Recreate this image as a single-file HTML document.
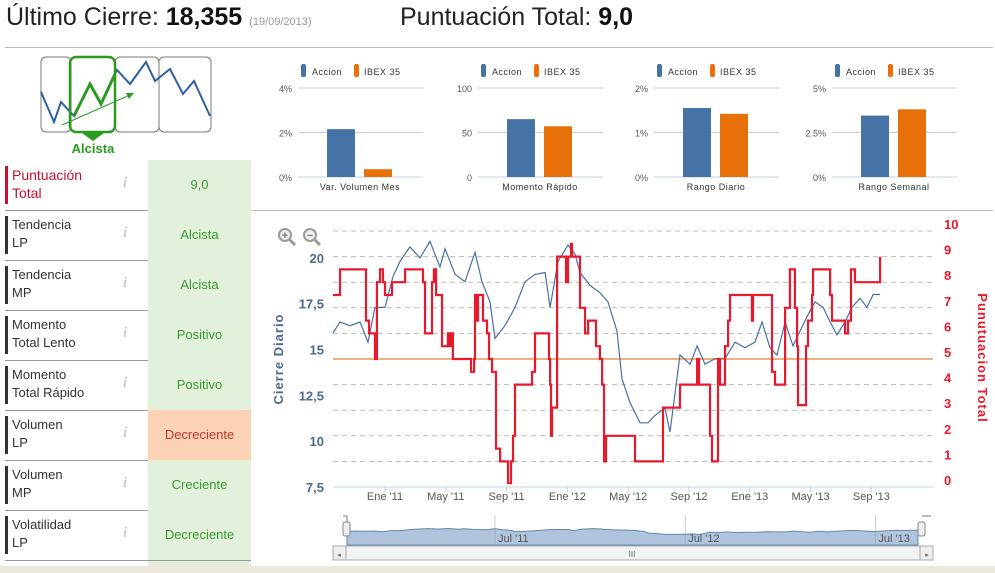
<!DOCTYPE html>
<html><head><meta charset="utf-8">
<style>
body{margin:0;width:995px;height:573px;overflow:hidden;background:#fff;font-family:"Liberation Sans",sans-serif;position:relative}
.abs{position:absolute}
.row{position:absolute;left:5px;width:246px;height:50px;border-bottom:1px solid #999}
.lbl{position:absolute;left:0;top:6px;height:38px;border-left:3px solid #333;padding-left:4px;font-size:13px;line-height:18px;color:#333;width:110px}
.info{position:absolute;left:118px;top:15px;font-family:"Liberation Serif",serif;font-style:italic;font-weight:bold;color:#ccc;font-size:15px}
.val{position:absolute;left:143px;top:0;width:103px;height:50px;background:#e2f0dc;color:#3a9a32;font-size:13px;text-align:center;line-height:50px}
</style></head><body>
<div class="abs" style="left:6px;top:3px;font-size:25px;color:#222">Último Cierre: <b style="color:#111">18,355</b> <span style="font-size:11px;color:#999">(19/09/2013)</span></div>
<div class="abs" style="left:400px;top:3px;font-size:25px;color:#222">Puntuación Total: <b style="color:#111">9,0</b></div>
<div class="abs" style="left:5px;top:47px;width:988px;height:1px;background:#bbb"></div>
<div class="abs" style="left:251px;top:210px;width:742px;height:1px;background:#bbb"></div>
<div class="abs" style="left:0;top:566px;width:995px;height:7px;background:#ece8dc"></div>

<svg class="abs" style="left:38px;top:54px" width="180" height="105">
<rect x="3" y="3" width="30" height="75" rx="5" fill="#fff" stroke="#777"/>
<rect x="77" y="3" width="44" height="75" rx="5" fill="#fff" stroke="#777"/>
<rect x="121" y="3" width="52" height="75" rx="5" fill="#fff" stroke="#777"/>
<polyline points="3,38 16,68 23,48 36,62 52,30 63,50 79,16 92,30 108,8 117,27 132,15 145,40 156,27 172,62" fill="none" stroke="#2f5fa0" stroke-width="2"/>
<rect x="32" y="3" width="45" height="75" rx="6" fill="none" stroke="#2a9a20" stroke-width="2.5"/>
<polyline points="36,62 52,30 63,50 77,20" fill="none" stroke="#2a9a20" stroke-width="3"/>
<line x1="24" y1="71" x2="94" y2="40" stroke="#2a9a20" stroke-width="1"/><polygon points="96,39 88,39 91,45" fill="#2a9a20"/>
<polygon points="44,79 66,79 55,87" fill="#2a9a20"/>
<text x="55" y="99" text-anchor="middle" font-size="13" font-weight="bold" fill="#2a9a20" font-family="Liberation Sans">Alcista</text>
</svg>

<div class="row" style="top:160px"><div class="lbl" style="border-color:#c8102e;color:#c8102e;font-size:14px">Puntuación<br>Total</div><div class="info">i</div><div class="val">9,0</div></div>
<div class="row" style="top:210px"><div class="lbl">Tendencia<br>LP</div><div class="info">i</div><div class="val">Alcista</div></div>
<div class="row" style="top:260px"><div class="lbl">Tendencia<br>MP</div><div class="info">i</div><div class="val">Alcista</div></div>
<div class="row" style="top:310px"><div class="lbl">Momento<br>Total Lento</div><div class="info">i</div><div class="val">Positivo</div></div>
<div class="row" style="top:360px"><div class="lbl">Momento<br>Total Rápido</div><div class="info">i</div><div class="val">Positivo</div></div>
<div class="row" style="top:410px"><div class="lbl">Volumen<br>LP</div><div class="info">i</div><div class="val" style="background:#fbd3b4;color:#c0392b">Decreciente</div></div>
<div class="row" style="top:460px"><div class="lbl">Volumen<br>MP</div><div class="info">i</div><div class="val">Creciente</div></div>
<div class="row" style="top:510px"><div class="lbl">Volatilidad<br>LP</div><div class="info">i</div><div class="val">Decreciente</div></div>
<div class="abs" style="left:148px;top:561px;width:103px;height:5px;background:#e2f0dc"></div>

<svg class="abs" id="bars" style="left:0;top:0" width="995" height="210"></svg>
<svg class="abs" id="main" style="left:0;top:0" width="995" height="566"></svg>

<script>
const barTitles=["Var. Volumen Mes","Momento Rápido","Rango Diario","Rango Semanal"];
const barMax=[4,100,2,5];
const barTicks=[["0%","2%","4%"],["0","50","100"],["0%","1%","2%"],["0%","2.5%","5%"]];
const accionVals=[2.15,65,1.55,3.45];
const ibexVals=[0.35,57,1.42,3.8];

const priceT=[-3.42,-2.96,-2.30,-1.64,-1.12,-0.66,0,0.53,0.99,1.64,2.30,2.96,3.62,3.95,4.61,5.26,5.92,6.38,6.91,7.24,7.89,8.55,9.21,9.87,10.53,10.86,11.38,12.04,12.50,12.83,13.49,14.14,14.67,15.26,15.59,16.12,16.78,17.30,17.76,18.42,18.75,19.41,20.07,20.53,21.05,21.71,22.37,23.03,23.68,24.34,24.80,25.33,25.79,26.32,26.84,27.30,27.83,28.29,28.82,29.28,29.74,30.26,30.72,31.25,31.71,32.11,32.57];
const priceV=[15.9,16.5,16.3,16.5,15.4,17.3,17.3,19.0,19.8,20.6,20.0,20.9,19.5,20.5,19.1,18.7,20.3,18.7,17.6,15.6,16.3,17.3,18.7,19.1,19.2,17.3,19.8,20.7,20.2,19.2,18.5,18.1,17.6,16.0,13.4,12.1,11.0,11.0,11.4,11.8,10.5,14.7,14.2,15.2,14.2,14.5,14.5,15.4,15.1,15.4,16.5,15.1,14.7,16.5,15.2,16.0,16.9,17.6,17.3,16.5,15.8,16.5,17.3,17.8,17.3,18.0,18.0];
const scoreT=[-3.42,-2.96,-1.25,-1.05,-0.66,-0.53,-0.33,-0.13,0,0.46,1.32,2.50,2.63,3.09,3.22,3.36,3.75,4.14,4.28,4.41,4.47,5.66,5.86,5.92,6.05,6.12,6.45,6.71,6.84,7.04,7.30,7.57,8.09,8.29,8.42,8.55,9.67,9.87,10.79,10.86,10.92,10.99,11.32,11.91,12.04,12.24,12.30,12.83,13.16,13.36,13.88,14.14,14.28,14.41,14.54,16.45,18.29,19.41,20.53,20.66,21.38,21.51,21.91,22.04,22.37,22.57,22.70,24.14,24.21,25.46,25.66,26.32,26.64,26.97,27.11,27.17,27.70,27.83,28.09,28.16,29.28,29.41,30.26,30.46,30.66,30.92,32.57];
const scoreV=[7.5,8.5,6.5,6.0,5.0,8.0,8.5,8.0,7.5,8.0,8.5,8.0,6.0,8.0,8.5,7.5,5.5,6.0,5.5,6.0,5.0,4.5,5.0,7.5,6.5,7.5,6.5,6.0,5.0,4.5,1.5,1.0,0.15,1.0,2.0,4.0,4.5,6.0,5.0,4.0,2.0,3.1,9.0,8.0,9.0,9.5,9.0,7.0,6.0,6.5,5.5,5.0,4.0,1.0,2.0,1.0,3.1,4.0,5.0,4.0,2.0,1.0,5.0,4.0,5.5,6.5,7.5,6.5,7.5,4.5,4.0,7.0,8.5,7.0,5.5,3.2,5.5,6.5,7.5,8.5,7.5,6.5,6.0,6.5,8.5,8.0,9.0];
const leftTicks=[7.5,10,12.5,15,17.5,20];
const leftTickLabels=["7,5","10","12,5","15","17,5","20"];
const rightTicks=[0,1,2,3,4,5,6,7,8,9,10];
const refScore=5;
const xTickT=[0,4,8,12,16,20,24,28,32];
const xTickLabels=["Ene '11","May '11","Sep '11","Ene '12","May '12","Sep '12","Ene '13","May '13","Sep '13"];
const navTickT=[6,18,30];
const navTickLabels=["Jul '11","Jul '12","Jul '13"];

const NS="http://www.w3.org/2000/svg";
function mk(p,tag,at,txt){const e=document.createElementNS(NS,tag);for(const k in at)e.setAttribute(k,at[k]);if(txt!==undefined)e.textContent=txt;p.appendChild(e);return e;}

const bs=document.getElementById('bars');
const bx0=[298,478,654,832];
for(let i=0;i<4;i++){
  const x0=bx0[i],w=125,yT=88,yB=177;
  const ys=v=>yB-(v/barMax[i])*(yB-yT);
  for(let k=0;k<3;k++){
    const y=yB-k*(yB-yT)/2;
    const g=mk(bs,'line',{x1:x0,x2:x0+w,y1:y,y2:y,stroke:k==0?'#c0d0e0':'#ccc','stroke-width':1});
    
    
    const t=mk(bs,'text',{x:x0-6,y:y+4,'text-anchor':'end','font-size':9,fill:'#555'},barTicks[i][k]);
    
    
  }
  const b1=mk(bs,'rect',{x:x0+29,y:ys(accionVals[i]),width:28,height:yB-ys(accionVals[i]),fill:'#4572a7'});
  
  
  const b2=mk(bs,'rect',{x:x0+66,y:ys(ibexVals[i]),width:28,height:yB-ys(ibexVals[i]),fill:'#e8700a'});
  
  
  const tt=mk(bs,'text',{x:x0+62,y:190,'text-anchor':'middle','font-size':9,fill:'#333','letter-spacing':'0.5'},barTitles[i]);
  
  
  const lg=mk(bs,'g',{});
  
  
  mk(lg,'rect',{x:x0+3,y:64,width:5,height:13,rx:2,fill:'#4572a7'});
  mk(lg,'text',{x:x0+14,y:75,'font-size':9,fill:'#333','letter-spacing':'0.5'},'Accion');
  mk(lg,'rect',{x:x0+56,y:64,width:5,height:13,rx:2,fill:'#e8700a'});
  mk(lg,'text',{x:x0+66,y:75,'font-size':9,fill:'#333','letter-spacing':'0.5'},'IBEX 35');
}

const sv=document.getElementById('main');
const L=333,R=933,TOP=231,BOT=487;
const xS=t=>385+t*15.2;
const yL=v=>BOT-(v-7.5)*18.33;
const yR=v=>BOT-v*25.6;
rightTicks.forEach(v=>{
  const g=mk(sv,'line',{x1:L,x2:R,y1:yR(v),y2:yR(v),stroke:v==0?'#c0d0e0':'#bbb','stroke-dasharray':v==0?'':'5,4','stroke-width':1});
  
  
  const t=mk(sv,'text',{x:944,y:yR(v)-2,'text-anchor':'start','font-size':13,'font-weight':'bold',fill:'#e8192c'},String(v));
  
  
});
leftTicks.forEach((v,i)=>{
  const t=mk(sv,'text',{x:324,y:yL(v)+5,'text-anchor':'end','font-size':13,'font-weight':'bold',fill:'#4a6890'},leftTickLabels[i]);
  
  
});
xTickT.forEach((t,i)=>{
  const tk=mk(sv,'line',{x1:xS(t),x2:xS(t),y1:BOT,y2:BOT+5,stroke:'#c0d0e0'});
  
  
  const tx=mk(sv,'text',{x:xS(t),y:500,'text-anchor':'middle','font-size':11,fill:'#555'},xTickLabels[i]);
  
  
});
const yt=mk(sv,'text',{x:283,y:359,'text-anchor':'middle','font-size':13,'font-weight':'bold',fill:'#4a6890','letter-spacing':'1',transform:'rotate(-90 283 359)'},'Cierre Diario');


const yt2=mk(sv,'text',{x:978,y:358,'text-anchor':'middle','font-size':13,'font-weight':'bold',fill:'#e8192c','letter-spacing':'1',transform:'rotate(90 978 358)'},'Punutuacion Total');


const ref=mk(sv,'line',{x1:L,x2:R,y1:yR(refScore),y2:yR(refScore),stroke:'#f0b080','stroke-width':2});


let pd='';priceT.forEach((t,i)=>{pd+=(i?'L':'M')+xS(t).toFixed(1)+','+yL(priceV[i]).toFixed(1);});
const pl=mk(sv,'path',{d:pd,fill:'none',stroke:'#4a6fa5','stroke-width':1.2});


let sd='';scoreT.forEach((t,i)=>{const x=xS(t).toFixed(1),y=yR(scoreV[i]).toFixed(1);sd+=i?('H'+x+'V'+y):('M'+x+','+y);});
const sl=mk(sv,'path',{d:sd,fill:'none',stroke:'#e8192c','stroke-width':2.2});



[[286,'+'],[311,'−']].forEach(([cx,s],i)=>{
  const g=mk(sv,'g',{});
  
  
  mk(g,'circle',{cx:cx-1,cy:235,r:6,fill:'#eee',stroke:'#999','stroke-width':2});
  mk(g,'line',{x1:cx+4,y1:240,x2:cx+9,y2:245,stroke:'#999','stroke-width':3});
  mk(g,'text',{x:cx-1,y:239,'text-anchor':'middle','font-size':11,'font-weight':'bold',fill:'#777'},s);
});

const NL=347,NR=918,NT=519,NB=545;
const t0=priceT[0],t1=priceT[priceT.length-1];
const nx=t=>NL+(t-t0)/(t1-t0)*(NR-NL);
const navX=t=>495+(t-6)*15.85;
mk(sv,'rect',{x:L,y:NT-4,width:R-L,height:NB-NT+4,fill:'#fff'});
let nd='M'+NL+','+NB;priceT.forEach((t,i)=>{nd+='L'+nx(t).toFixed(1)+','+(NB-10-(priceV[i]-10)*0.6).toFixed(1);});nd+='L'+NR+','+NB+'Z';
const na=mk(sv,'path',{d:nd,fill:'#b0c4de',stroke:'#6685b0','stroke-width':1});


navTickT.forEach((t,i)=>{
  const x=navX(t);
  const ln=mk(sv,'line',{x1:x,x2:x,y1:NT-4,y2:NB,stroke:'#999','stroke-width':1,opacity:0.5});
  
  
  const tx=mk(sv,'text',{x:x+3,y:542,'font-size':11,fill:'#555'},navTickLabels[i]);
  
  
});
[NL-3,NR+1].forEach((x,i)=>{
  const h=mk(sv,'rect',{x:x-1,y:522,width:7,height:14,rx:2,fill:'#eee',stroke:'#888'});
  
  
});
mk(sv,'path',{d:`M${NL-4},516H${NL}V522M${NR+4},516H${NR+13}`,fill:'none',stroke:'#777'});
const sb=mk(sv,'rect',{x:L,y:546,width:R-L,height:14,fill:'#eee',stroke:'#aaa'});


const th=mk(sv,'rect',{x:L+13,y:546,width:R-L-26,height:14,fill:'#f3f3f3',stroke:'#aaa'});


mk(sv,'text',{x:632,y:557,'text-anchor':'middle','font-size':8,fill:'#666'},'III');
mk(sv,'text',{x:339,y:557,'text-anchor':'middle','font-size':7,fill:'#666'},'◂');
mk(sv,'text',{x:927,y:557,'text-anchor':'middle','font-size':7,fill:'#666'},'▸');
</script>
</body></html>
